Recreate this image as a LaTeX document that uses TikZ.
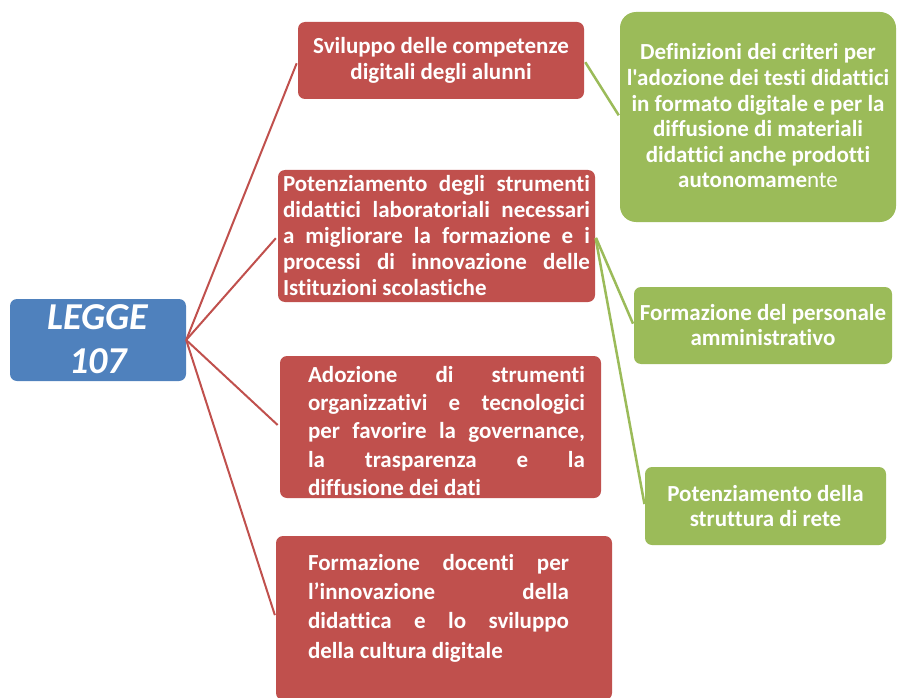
\documentclass[tikz,border=0pt]{standalone}
\usepackage{fontspec}
\setmainfont{Carlito}[Ligatures={TeXOff,NoCommon}]
\definecolor{rboxc}{HTML}{C0504D}
\definecolor{gboxc}{HTML}{9BBB59}
\definecolor{bboxc}{HTML}{4F81BD}
\newcommand\jline[1]{\hbox to\hsize{\spaceskip=0pt\xspaceskip=0pt\relax #1}}
\newcommand\lline[1]{\hbox to\hsize{\spaceskip=0pt\xspaceskip=0pt\relax #1\hfil}}
\begin{document}
\begin{tikzpicture}[x=1pt,y=-1pt,
  shapebox/.style={rectangle, rounded corners=7pt, inner sep=0pt, draw=none},
  redbox/.style={shapebox, fill=rboxc},
  greenbox/.style={shapebox, fill=gboxc},
  bluebox/.style={shapebox, fill=bboxc},
  boxtext/.style={text=white, inner sep=0pt, font=\fontsize{23}{26}\selectfont\bfseries},
  gtext/.style={boxtext, align=center, font=\fontsize{23}{25.6}\selectfont\bfseries},
  redline/.style={draw=rboxc, line width=2pt, shorten >=3pt},
  greenline/.style={draw=gboxc, line width=2.5pt, shorten <=2pt, shorten >=2pt}]
\useasboundingbox (0,0) rectangle (897,698);
% boxes
\node[bluebox, minimum width=176pt, minimum height=82pt] (legge) at (98,340) {};
\node[redbox, minimum width=286pt, minimum height=77pt] (r1) at (441,60.5) {};
\node[redbox, minimum width=317pt, minimum height=132pt] (r2) at (436.5,236) {};
\node[redbox, minimum width=321pt, minimum height=142pt] (r3) at (440.5,427) {};
\node[redbox, minimum width=336pt, minimum height=164pt] (r4) at (444,618) {};
\node[greenbox, rounded corners=16pt, minimum width=276pt, minimum height=210pt] (g1) at (758,117) {};
\node[greenbox, minimum width=258pt, minimum height=77pt] (g2) at (763,325.5) {};
\node[greenbox, minimum width=241pt, minimum height=78pt] (g3) at (765.5,506) {};
% texts
\node[text=white, align=center, inner sep=0pt, font=\fontsize{38}{44}\selectfont\bfseries\itshape] (tl) at (98,339) {LEGGE\\107};
\node[boxtext, align=center] (t1) at (441,60) {Sviluppo delle competenze\\digitali degli alunni};
\node[boxtext, text width=307pt] (t2) at (436.5,236) {%
\jline{Potenziamento degli strumenti}
\jline{didattici laboratoriali necessari}
\jline{a migliorare la formazione e i}
\jline{processi di innovazione delle}
\lline{Istituzioni scolastiche}};
\node[boxtext, text width=277pt, font=\fontsize{23}{28.2}\selectfont\bfseries] (t3) at (446.5,431) {%
\jline{Adozione di strumenti}
\jline{organizzativi e tecnologici}
\jline{per favorire la governance,}
\jline{la trasparenza e la}
\lline{diffusione dei dati}};
\node[boxtext, text width=261pt, font=\fontsize{23}{29.3}\selectfont\bfseries] (t4) at (438.5,608) {%
\jline{Formazione docenti per}
\jline{l’innovazione della}
\jline{didattica e lo sviluppo}
\lline{della cultura digitale}};
\node[gtext] (tg1) at (758,116) {Definizioni dei criteri per\\l'adozione dei testi didattici\\in formato digitale e per la\\diffusione di materiali\\didattici anche prodotti\\autonomame{\mdseries nte}};
\node[gtext] (tg2) at (763,325) {Formazione del personale\\amministrativo};
\node[gtext] (tg3) at (765.5,506) {Potenziamento della\\struttura di rete};
% connectors
\draw[redline] (legge.east) -- (r1.west);
\draw[redline] (legge.east) -- (r2.west);
\draw[redline] (legge.east) -- (r3.west);
\draw[redline] (legge.east) -- (r4.west);
\draw[greenline] (r1.east) -- (g1.west);
\draw[greenline] (r2.east) -- (g2.west);
\draw[greenline] (r2.east) -- (g3.west);
\end{tikzpicture}
\end{document}
